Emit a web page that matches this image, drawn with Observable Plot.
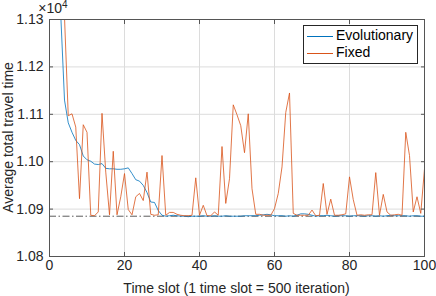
<!DOCTYPE html>
<html>
<head>
<meta charset="utf-8">
<script src="https://cdn.jsdelivr.net/npm/d3@7"></script>
<script src="https://cdn.jsdelivr.net/npm/@observablehq/plot@0.6"></script>
<style>
  body { margin: 0; background: #fff; }
  #wrap { position: relative; width: 436px; height: 296px; font-family: "Liberation Sans", Arial, sans-serif; }
  #legend { position: absolute; left: 303px; top: 25px; width: 113px; height: 37px; border: 1px solid #262626; background: #fff; font-size: 14px; color: #000; }
  .row { position: absolute; left: 0; height: 17px; line-height: 17px; }
  .sw { position: absolute; left: 3px; top: 9px; width: 26px; height: 0; border-top: 1px solid; }
  .lb { position: absolute; left: 32px; top: 0; white-space: nowrap; }
</style>
</head>
<body>
<div id="wrap"></div>
<script>
const slots = d3.range(1, 101);
const evolutionary = [11700, 11500, 11310, 11130, 11082, 11062, 11045, 11036, 11012, 11004,
  11001, 10995, 10994, 10996, 10986, 10985, 10985, 10984, 10984, 10985,
  10987, 10975, 10962, 10959, 10950, 10935, 10915, 10914, 10897, 10887,
  10885, 10886, 10887, 10886, 10885, 10885, 10884, 10885, 10885, 10885,
  10886, 10885, 10885, 10886, 10885, 10885, 10886, 10885, 10885, 10885,
  10885, 10886, 10886, 10886, 10886, 10887, 10888, 10889, 10888, 10886,
  10886, 10886, 10885, 10886, 10885, 10887, 10890, 10890, 10889, 10887,
  10885, 10886, 10886, 10887, 10886, 10885, 10886, 10886, 10886, 10885,
  10886, 10886, 10886, 10885, 10886, 10886, 10885, 10886, 10885, 10886,
  10887, 10886, 10886, 10886, 10886, 10885, 10886, 10886, 10885, 10885];
const fixed = [11800, 11600, 11450, 11305, 11097, 11101, 11073, 10922, 11078, 11062,
  10887, 10886, 10894, 11102, 10978, 10888, 11022, 10888, 10926, 10975,
  10899, 10888, 10926, 10933, 10918, 10978, 10889, 10887, 10888, 11013,
  10887, 10893, 10893, 10889, 10887, 10886, 10886, 10887, 10966, 10887,
  10908, 10886, 10886, 10894, 10887, 11032, 10912, 10964, 11120, 11099,
  11076, 11019, 11101, 10943, 10889, 10889, 10887, 10887, 10887, 10901,
  10933, 10989, 11104, 11145, 10891, 10887, 10887, 10887, 10887, 10898,
  10886, 10887, 10954, 10889, 10921, 10887, 10887, 10888, 10890, 10968,
  10920, 10887, 10888, 10887, 10888, 10888, 10977, 10887, 10931, 10894,
  10887, 10888, 10889, 10887, 11062, 11013, 10894, 10926, 10891, 10985];
const baseline = 10885;
const xTicks = [0, 20, 40, 60, 80, 100];
const yTicks = [10800, 10900, 11000, 11100, 11200, 11300];
const seriesNames = ["Evolutionary", "Fixed"];
const colors = ["#0072BD", "#D95319"];
const xLabel = "Time slot (1 time slot = 500 iteration)";
const yLabel = "Average total travel time";

const evoData = slots.map((s, i) => ({slot: s, value: evolutionary[i]}));
const fixData = slots.map((s, i) => ({slot: s, value: fixed[i]}));

const axisColor = "#262626";
const plot = Plot.plot({
  width: 436, height: 296,
  marginLeft: 49, marginRight: 12, marginTop: 19, marginBottom: 40,
  style: {fontFamily: "'Liberation Sans', Arial, sans-serif", fontSize: "14px", color: axisColor, background: "#fff"},
  x: {domain: [0, 100]},
  y: {domain: [10800, 11300]},
  marks: [
    Plot.gridX(xTicks, {stroke: "#dcdcdc", strokeOpacity: 1}),
    Plot.gridY(yTicks, {stroke: "#dcdcdc", strokeOpacity: 1}),
    Plot.ruleY([baseline], {stroke: "#333", strokeWidth: 0.8, strokeDasharray: "7,2.5,1.5,2.5"}),
    Plot.line(evoData, {x: "slot", y: "value", stroke: colors[0], strokeWidth: 0.8, clip: true}),
    Plot.line(fixData, {x: "slot", y: "value", stroke: colors[1], strokeWidth: 0.8, clip: true}),
    Plot.frame({stroke: "#555", strokeWidth: 1}),
    Plot.axisX(xTicks, {anchor: "bottom", tickSize: 0, tickPadding: 4, label: null, fill: axisColor}),
    Plot.axisX(xTicks, {anchor: "bottom", tickSize: -4, fill: "none", label: null, stroke: "#555"}),
    Plot.axisX(xTicks, {anchor: "top", tickSize: -4, fill: "none", label: null, stroke: "#555"}),
    Plot.axisY(yTicks, {anchor: "left", tickSize: 0, tickPadding: 6, label: null, fill: axisColor, tickFormat: d => (d / 1e4).toFixed(2)}),
    Plot.axisY(yTicks, {anchor: "left", tickSize: -4, fill: "none", label: null, stroke: "#555"}),
    Plot.axisY(yTicks, {anchor: "right", tickSize: -4, fill: "none", label: null, stroke: "#555"})
  ]
});

const wrap = document.getElementById("wrap");
wrap.appendChild(plot);
const svg = d3.select(plot);
const xs = plot.scale("x"), ys = plot.scale("y");
const midX = (xs.range[0] + xs.range[1]) / 2;
const midY = (ys.range[0] + ys.range[1]) / 2;
svg.append("text").attr("x", midX).attr("y", 293).attr("text-anchor", "middle")
  .attr("font-size", 14).attr("fill", axisColor).text(xLabel);
svg.append("text").attr("transform", `translate(13,${midY}) rotate(-90)`).attr("text-anchor", "middle")
  .attr("font-size", 14).attr("fill", axisColor).text(yLabel);
const ex = svg.append("text").attr("x", 53).attr("y", 13).attr("font-size", 14).attr("fill", axisColor);
ex.append("tspan").text("\u00d710");
ex.append("tspan").attr("dy", -5).attr("font-size", 10).text("4");

const leg = document.createElement("div");
leg.id = "legend";
seriesNames.forEach((n, i) => {
  const r = document.createElement("div");
  r.className = "row";
  r.style.top = (1 + i * 17) + "px";
  r.style.width = "100%";
  r.innerHTML = `<span class="sw" style="border-color:${colors[i]}"></span><span class="lb">${n}</span>`;
  leg.appendChild(r);
});
wrap.appendChild(leg);
</script>
</body>
</html>
